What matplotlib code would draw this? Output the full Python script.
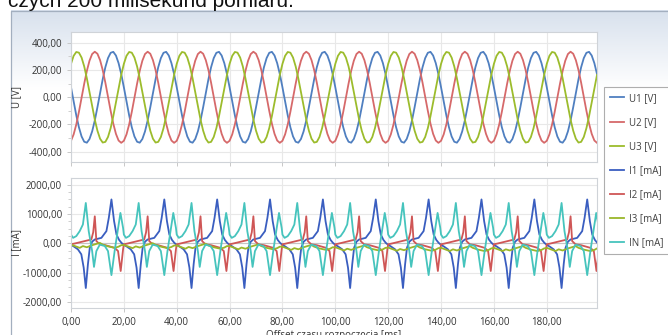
import numpy as np
import matplotlib.pyplot as plt
from matplotlib.colors import LinearSegmentedColormap
from matplotlib.ticker import MultipleLocator, FuncFormatter

# napiecia - jeden okres 50 Hz (20 ms), odczyt co 1 ms [V]
U1_period = [73, -32, -133, -221, -288, -327, -334, -307, -251, -171,
             -73, 32, 133, 221, 288, 327, 334, 307, 251, 171]
U2_period = [-320, -273, -200, -107, -3, 100, 194, 269, 318, 335,
             320, 273, 200, 107, 3, -100, -194, -269, -318, -335]
U3_period = [246, 305, 333, 328, 292, 227, 139, 38, -66, -164,
             -246, -305, -333, -328, -292, -227, -139, -38, 66, 164]

# prady - punkty charakterystyczne w jednym okresie (ms, mA)
I1_t = [0, 1, 2.6, 3.9, 4.8, 5.6, 6.4, 7.1, 8, 9, 11.5, 13.4, 14.3, 15.3, 16.3, 17.2, 18.2, 19.1]
I1_v = [-50, -100, -200, -370, -825, -1520, -710, -150, 60, 135, 190, 420, 870, 1500, 760, 305, 120, 20]
I2_t = [0, 1.5, 5.2, 7.7, 8.4, 9.0, 9.6, 10.9, 13, 16.5, 17.8, 18.8, 19.7]
I2_v = [-30, 0, 80, 135, 380, 925, 80, -30, -60, -150, -260, -940, -200]
I3_t = [0, 1.5, 3.3, 4.5, 6, 8, 9.5, 10.9, 12, 14, 16.5, 18, 19]
I3_v = [-40, -90, -150, -90, -130, -60, -20, 20, -40, -100, -150, -110, -60]
I3_shift = [0, -10, -30, -50, -70, -90, -100, -110, -110, -110]
IN_t = [0, 0.8, 2, 3.3, 4.5, 5.6, 6.7, 8, 8.7, 9.6, 10.9, 12.8, 14, 15.3, 16.5, 18.7, 19.7]
IN_v = [300, 190, 250, 420, 645, 1380, 420, -260, -800, -260, -40, -90, -260, -1080, -260, 1040, 530]

period = 20.0
n_periods = 10
x_ticks = [0, 20, 40, 60, 80, 100, 120, 140, 160, 180]


def repeat(t_pts, v_pts, shift=None):
    t = np.concatenate([np.asarray(t_pts) + period * k for k in range(n_periods)])
    if shift is None:
        v = np.tile(v_pts, n_periods)
    else:
        v = np.concatenate([np.asarray(v_pts) + s for s in shift])
    return t, v


t_u = np.arange(0, period * n_periods, 1.0)
U1 = np.tile(U1_period, n_periods)
U2 = np.tile(U2_period, n_periods)
U3 = np.tile(U3_period, n_periods)
tI1, I1 = repeat(I1_t, I1_v)
tI2, I2 = repeat(I2_t, I2_v)
tI3, I3 = repeat(I3_t, I3_v, I3_shift)
tIN, IN = repeat(IN_t, IN_v)

plt.rcParams['font.family'] = ['Open Sans', 'DejaVu Sans']
W, H = 668, 335
fig = plt.figure(figsize=(W / 100, H / 100), dpi=100)

# tlo okna (gradient + ramka)
bg = fig.add_axes([0, 0, 1, 1], zorder=0)
bg.set_xlim(0, W)
bg.set_ylim(H, 0)
bg.axis('off')
cmap = LinearSegmentedColormap.from_list('g', ['#d8e1ed', '#ffffff'])
bg.imshow(np.linspace(0, 1, 100)[:, None], extent=(10.5, W, 90, 10.5),
          aspect='auto', cmap=cmap)
bg.plot([10.5, 10.5, W], [H, 10.5, 10.5], color='#a3afbf', lw=0.9)
fig.text(8 / W, 1 - 7 / H, 'czych 200 milisekund pomiaru.', fontsize=15,
         family='Liberation Sans', va='baseline', color='#111111')


def px_axes(left, top, right, bottom):
    return fig.add_axes([left / W, 1 - bottom / H, (right - left) / W, (bottom - top) / H], zorder=2)


fmt = FuncFormatter(lambda v, p: f'{v:.2f}'.replace('.', ','))


def style(ax):
    ax.set_facecolor('white')
    for s in ax.spines.values():
        s.set_color('#cfd3d8')
        s.set_linewidth(0.8)
    ax.grid(True, color='#e8e8e8', lw=0.8)
    ax.set_axisbelow(True)
    ax.tick_params(colors='#c8c8c8', labelcolor='#333333', labelsize=7, length=3, width=0.7)
    ax.tick_params(which='minor', colors='#c8c8c8', length=2, width=0.6)
    ax.yaxis.set_major_formatter(fmt)
    ax.set_xlim(0, 199)
    ax.xaxis.set_major_locator(plt.FixedLocator(x_ticks))
    ax.axhline(0, color='#c4c4c4', lw=0.8, zorder=1)


ax1 = px_axes(71, 32, 597, 162)
style(ax1)
l1, = ax1.plot(t_u, U1, color='#4f7fc0', lw=1.3, label='U1 [V]')
l2, = ax1.plot(t_u, U2, color='#d6696a', lw=1.3, label='U2 [V]')
l3, = ax1.plot(t_u, U3, color='#9cbc2c', lw=1.3, label='U3 [V]')
ax1.set_ylim(-476, 480)
ax1.yaxis.set_major_locator(MultipleLocator(200))
ax1.yaxis.set_minor_locator(MultipleLocator(100))
ax1.tick_params(labelbottom=False)
ax1.set_ylabel('U [V]', fontsize=7, color='#333333')
ax1.yaxis.set_label_coords((22 - 71) / 526, 0.5)

ax2 = px_axes(71, 178, 597, 308)
style(ax2)
m1, = ax2.plot(tI1, I1, color='#3a5ec0', lw=1.3, label='I1 [mA]')
m2, = ax2.plot(tI2, I2, color='#cf5656', lw=1.3, label='I2 [mA]')
m3, = ax2.plot(tI3, I3, color='#9ab62a', lw=1.3, label='I3 [mA]')
m4, = ax2.plot(tIN, IN, color='#46c4bd', lw=1.3, label='IN [mA]')
ax2.set_ylim(-2200, 2230)
ax2.yaxis.set_major_locator(MultipleLocator(1000))
ax2.yaxis.set_minor_locator(MultipleLocator(250))
ax2.xaxis.set_major_formatter(fmt)
ax2.set_ylabel('I [mA]', fontsize=7, color='#333333')
ax2.yaxis.set_label_coords((22 - 71) / 526, 0.5)
ax2.set_xlabel('Offset czasu rozpoczęcia [ms]', fontsize=7, color='#333333', labelpad=1.5)

handles = [l1, l2, l3, m1, m2, m3, m4]
leg = fig.legend(handles, [h.get_label() for h in handles], loc='upper left',
                 bbox_to_anchor=(604 / W, 1 - 87 / H), frameon=True, fancybox=False,
                 edgecolor='#9a9a9a', fontsize=7, handlelength=1.5, handletextpad=0.5,
                 labelspacing=1.35, borderpad=0.6, borderaxespad=0)
leg.get_frame().set_linewidth(0.8)
for txt in leg.get_texts():
    txt.set_color('#404040')

fig.savefig('out.png', dpi=100)
